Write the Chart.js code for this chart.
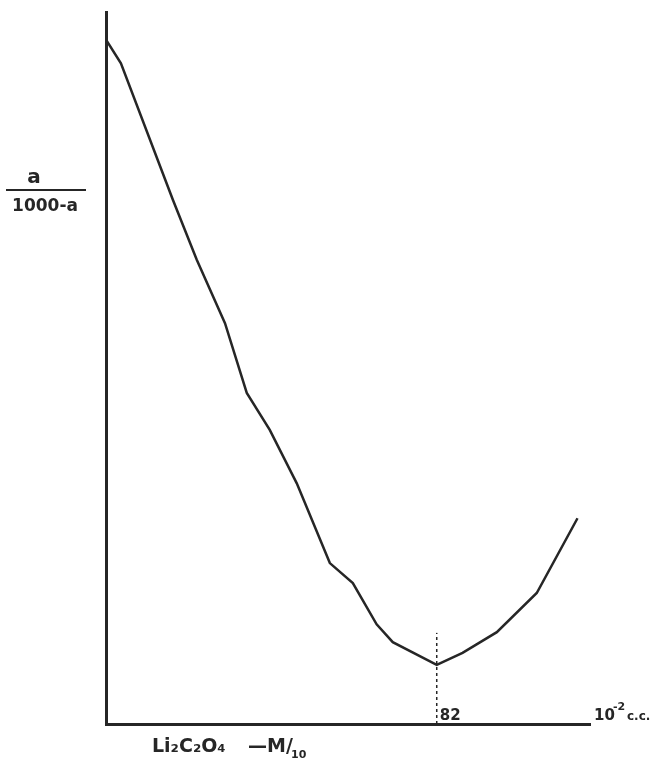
<!DOCTYPE html>
<html>
<head>
<meta charset="utf-8">
<script src="https://cdn.jsdelivr.net/npm/chart.js@4.4.1/dist/chart.umd.min.js"></script>
<style>
  body { margin: 0; background: #fff; }
  canvas { display: block; }
</style>
</head>
<body>
<canvas id="chart" width="665" height="774"></canvas>
<script>
// volume of Li2C2O4 added, in 10^-2 c.c.
const volumes = [0, 3.7, 16.6, 22.5, 29.5, 34.9, 40.6, 47.3, 55.5, 61.2, 67.1, 71.1, 82, 88.4, 96.9, 106.8, 116.9];
// a / (1000 - a), arbitrary units
const ratios = [96.1, 92.8, 73.6, 65.2, 56.3, 46.5, 41.3, 33.8, 22.6, 19.8, 14.0, 11.5, 8.3, 10.0, 12.9, 18.4, 28.9];
// dashed marker at the minimum
const markerX = [82, 82];
const markerY = [0, 12.8];
const xTickLabels = ["82"];

const ink = "#262626";

const labelsPlugin = {
  id: "labels",
  afterDraw(chart) {
    const { ctx, chartArea, scales } = chart;
    ctx.save();
    ctx.fillStyle = ink;
    ctx.strokeStyle = ink;

    // y label as a fraction
    ctx.font = "bold 20px 'DejaVu Sans'";
    ctx.textAlign = "center";
    ctx.textBaseline = "alphabetic";
    ctx.fillText("a", 34, 183);
    ctx.lineWidth = 2;
    ctx.beginPath();
    ctx.moveTo(6, 190);
    ctx.lineTo(86, 190);
    ctx.stroke();
    ctx.font = "bold 17px 'DejaVu Sans'";
    ctx.fillText("1000-a", 45, 211);

    // tick label for the minimum
    ctx.font = "bold 15px 'DejaVu Sans'";
    ctx.textAlign = "left";
    xTickLabels.forEach(t => {
      const px = scales.x.getPixelForValue(Number(t));
      ctx.fillText(t, px + 3, chartArea.bottom - 4);
    });

    // unit at the end of the x axis
    ctx.font = "bold 15px 'DejaVu Sans'";
    ctx.fillText("10", 594, chartArea.bottom - 4);
    ctx.font = "bold 11px 'DejaVu Sans'";
    ctx.fillText("-2", 613, chartArea.bottom - 14);
    ctx.font = "bold 12px 'DejaVu Sans'";
    ctx.fillText("c.c.", 627, chartArea.bottom - 4);

    // x axis title
    ctx.font = "bold 19px 'DejaVu Sans'";
    ctx.fillText("Li₂C₂O₄", 152, 752);
    ctx.fillText("—M/", 248, 752);
    ctx.font = "bold 11px 'DejaVu Sans'";
    ctx.fillText("10", 291, 758);
    ctx.restore();
  }
};

new Chart(document.getElementById("chart").getContext("2d"), {
  type: "scatter",
  data: {
    datasets: [
      {
        data: volumes.map((v, i) => ({ x: v, y: ratios[i] })),
        showLine: true,
        borderColor: ink,
        borderWidth: 2.5,
        pointRadius: 0,
        tension: 0,
      },
      {
        data: markerX.map((v, i) => ({ x: v, y: markerY[i] })),
        showLine: true,
        borderColor: ink,
        borderWidth: 1.5,
        borderDash: [3, 3],
        pointRadius: 0,
      },
    ],
  },
  options: {
    responsive: false,
    animation: false,
    layout: {
      padding: { left: 98, right: 75, top: 12, bottom: 42 },
    },
    scales: {
      x: {
        type: "linear",
        min: 0,
        max: 120,
        ticks: { display: false },
        grid: { display: false },
        border: { display: true, color: ink, width: 3 },
      },
      y: {
        min: 0,
        max: 100,
        ticks: { display: false },
        grid: { display: false },
        border: { display: true, color: ink, width: 3 },
      },
    },
    plugins: {
      legend: { display: false },
      tooltip: { enabled: false },
    },
  },
  plugins: [labelsPlugin],
});
</script>
</body>
</html>
